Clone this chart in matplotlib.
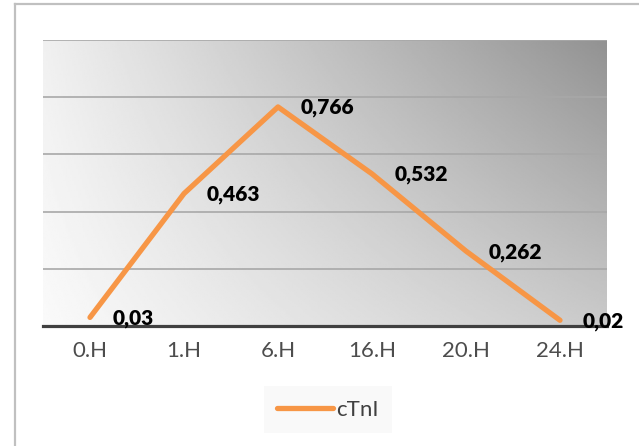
import matplotlib.pyplot as plt
import numpy as np
from matplotlib.lines import Line2D

categories = ["0.H", "1.H", "6.H", "16.H", "20.H", "24.H"]
ctni = [0.03, 0.463, 0.766, 0.532, 0.262, 0.02]
labels = ["0,03", "0,463", "0,766", "0,532", "0,262", "0,02"]
series_name = "cTnI"

plt.rcParams['font.family'] = ['Lato', 'DejaVu Sans']

fig = plt.figure(figsize=(6.39, 4.46), dpi=100)
ax = fig.add_axes([43 / 639, 1 - 326 / 446, 564 / 639, 286 / 446])

# gradient background (light bottom-left -> dark top-right)
gx, gy = np.meshgrid(np.linspace(0, 1, 300), np.linspace(0, 1, 200))
shade = (250 * (1 - gx) * (1 - gy) + 202 * gx * (1 - gy)
         + 240 * (1 - gx) * gy + 146 * gx * gy) / 255
ax.imshow(shade, cmap='gray', vmin=0, vmax=1, origin='lower',
          extent=(-0.5, len(categories) - 0.5, 0, 1), aspect='auto', zorder=0)

x = np.arange(len(categories))
ax.plot(x, ctni, color='#F79646', lw=3.8, solid_capstyle='round',
        solid_joinstyle='round', zorder=3)

for xi, yi, lab in zip(x, ctni, labels):
    ax.annotate(lab, (xi, yi), xytext=(23, -1), textcoords='offset pixels',
                ha='left', va='center', fontsize=15, fontweight='heavy',
                color='black', zorder=5, annotation_clip=False)

ax.set_xlim(-0.5, len(categories) - 0.5)
ax.set_ylim(0, 1)
ax.set_yticks([0.2, 0.4, 0.6, 0.8, 1.0])
ax.yaxis.grid(True, color='#a8a8a8', lw=1.2, zorder=1)
ax.set_axisbelow(False)
ax.tick_params(axis='y', left=False, labelleft=False)
ax.set_xticks(x)
ax.set_xticklabels(categories, fontsize=16, color='#4d4d4d')
ax.tick_params(axis='x', length=0, pad=11)
for s in ['top', 'right', 'left']:
    ax.spines[s].set_visible(False)
ax.spines['bottom'].set_color('#404040')
ax.spines['bottom'].set_linewidth(2.3)
ax.spines['bottom'].set_zorder(4)

handle = Line2D([], [], color='#F79646', lw=3.8, solid_capstyle='round')
leg = fig.legend([handle], [series_name], loc='center',
                 bbox_to_anchor=(328 / 639, 1 - 409.5 / 446),
                 fontsize=16, frameon=True, fancybox=False,
                 handlelength=2.5, handletextpad=0.15, borderpad=0.6,
                 borderaxespad=0)
leg.get_frame().set_facecolor('#f8f8f8')
leg.get_frame().set_edgecolor('none')
for t in leg.get_texts():
    t.set_color('#404040')

# outer chart border
fig.add_artist(Line2D([15 / 639, 15 / 639], [0, 1 - 4 / 446],
                      color='#c0c0c0', lw=1.6))
fig.add_artist(Line2D([15 / 639, 1], [1 - 4 / 446, 1 - 4 / 446],
                      color='#c0c0c0', lw=1.6))

fig.savefig('out.png', dpi=100)
